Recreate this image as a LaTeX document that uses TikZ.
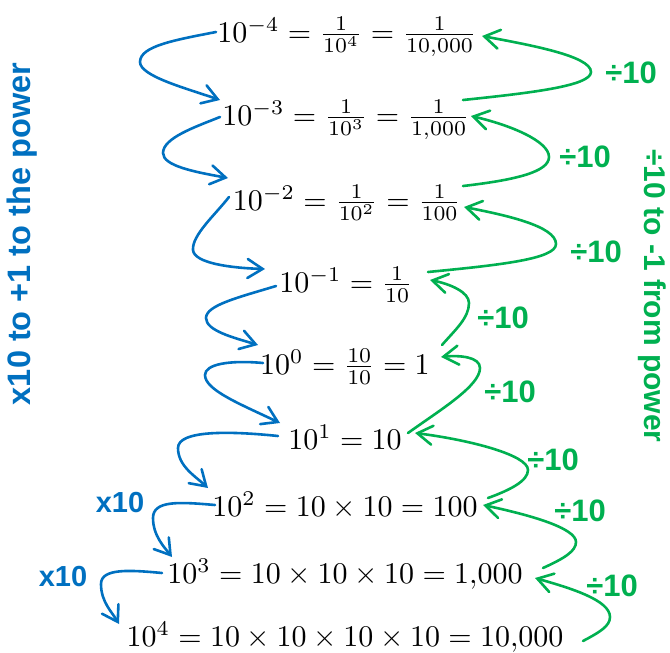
\documentclass[tikz,border=0pt]{standalone}
\usepackage{fontspec}
\newfontfamily\lblfont{Liberation Sans}
\usetikzlibrary{arrows.meta}
\definecolor{myblue}{HTML}{0070C0}
\definecolor{mygreen}{HTML}{00B050}
\begin{document}
\begin{tikzpicture}[x=1pt,y=-1pt,
  eq/.style={anchor=base, inner sep=0pt, scale=3},
  blbl/.style={text=myblue, inner sep=0pt, font=\lblfont\bfseries\fontsize{29}{31}\selectfont},
  glbl/.style={text=mygreen, inner sep=0pt, font=\lblfont\bfseries\fontsize{31}{33}\selectfont},
  barr/.style={draw=myblue, line width=2.6pt, line cap=round, -{Straight Barb[length=15pt,width=19pt,line cap=round]}},
  garr/.style={draw=mygreen, line width=2.6pt, line cap=round, -{Straight Barb[length=15pt,width=19pt,line cap=round]}}]
\useasboundingbox (0,0) rectangle (670,653);

% equations
\node[eq] (r1) at (347,42)  {$10^{-4}=\frac{1}{10^4}=\frac{1}{10{,}000}$};
\node[eq] (r2) at (346,125) {$10^{-3}=\frac{1}{10^3}=\frac{1}{1{,}000}$};
\node[eq] (r3) at (347,210) {$10^{-2}=\frac{1}{10^2}=\frac{1}{100}$};
\node[eq] (r4) at (346,292) {$10^{-1}=\frac{1}{10}$};
\node[eq] (r5) at (345,374) {$10^{0}=\frac{10}{10}=1$};
\node[eq] (r6) at (345,449) {$10^{1}=10$};
\node[eq] (r7) at (345,516) {$10^{2}=10\times10=100$};
\node[eq] (r8) at (345,583) {$10^{3}=10\times10\times10=1{,}000$};
\node[eq] (r9) at (345,646) {$10^{4}=10\times10\times10\times10=10{,}000$};

% side texts
\node[inner sep=0pt, text=myblue, rotate=90, font=\lblfont\bfseries\fontsize{32.5}{34}\selectfont] (lt) at (22,234) {x10 to +1 to the power};
\node[inner sep=0pt, text=mygreen, rotate=-90, font=\lblfont\bfseries\fontsize{30}{32}\selectfont] (rt) at (652,296) {÷10 to -1 from power};

% x10 labels
\node[blbl] (x1) at (120,503) {x10};
\node[blbl] (x2) at (63,577) {x10};

% divide labels
\node[glbl] (d2) at (631,73) {÷10};
\node[glbl] (d3) at (585,157) {÷10};
\node[glbl] (d4) at (596,252) {÷10};
\node[glbl] (d5) at (503,318) {÷10};
\node[glbl] (d6) at (510,392) {÷10};
\node[glbl] (d7) at (553,460) {÷10};
\node[glbl] (d8) at (580,511) {÷10};
\node[glbl] (d9) at (612,586) {÷10};

% blue connector ends
\coordinate (b1s) at (216,32);  \coordinate (b1l) at (140,62);  \coordinate (b1t) at (220,100);
\coordinate (b2s) at (220,117); \coordinate (b2l) at (163,153); \coordinate (b2t) at (228,178);
\coordinate (b3s) at (229,197); \coordinate (b3l) at (193,250); \coordinate (b3t) at (265,269);
\coordinate (b4s) at (276,286); \coordinate (b4l) at (206,318); \coordinate (b4t) at (258,345);
\coordinate (b5s) at (263,363); \coordinate (b5l) at (205,375); \coordinate (b5t) at (280,423);
\coordinate (b6s) at (278,436); \coordinate (b6l) at (178,448); \coordinate (b6t) at (208,488);
\coordinate (b7s) at (215,505); \coordinate (b7l) at (153,518); \coordinate (b7t) at (172,557);
\coordinate (b8s) at (162,573); \coordinate (b8l) at (101,584); \coordinate (b8t) at (119,624);

\draw[barr] (b1s) .. controls (175,40) and (140,46) .. (b1l) .. controls (140,76) and (185,88) .. (b1t);
\draw[barr] (b2s) .. controls (195,127) and (163,138) .. (b2l) .. controls (163,166) and (195,172) .. (b2t);
\draw[barr] (b3s) .. controls (215,215) and (192,235) .. (b3l) .. controls (194,263) and (230,268) .. (b3t);
\draw[barr] (b4s) .. controls (240,297) and (206,305) .. (b4l) .. controls (206,331) and (235,338) .. (b4t);
\draw[barr] (b5s) .. controls (230,360) and (205,364) .. (b5l) .. controls (205,390) and (240,404) .. (b5t);
\draw[barr] (b6s) .. controls (230,431) and (178,430) .. (b6l) .. controls (178,466) and (195,476) .. (b6t);
\draw[barr] (b7s) .. controls (180,502) and (153,500) .. (b7l) .. controls (153,536) and (165,548) .. (b7t);
\draw[barr] (b8s) .. controls (130,570) and (101,568) .. (b8l) .. controls (101,602) and (112,612) .. (b8t);

% green connector ends
\coordinate (g2s) at (463,100); \coordinate (g2r) at (591,72);  \coordinate (g2t) at (482,36);
\coordinate (g3s) at (463,186); \coordinate (g3r) at (549,157); \coordinate (g3t) at (471,116);
\coordinate (g4s) at (428,272); \coordinate (g4r) at (556,244); \coordinate (g4t) at (464,207);
\coordinate (g5s) at (442,345); \coordinate (g5r) at (469,303); \coordinate (g5t) at (430,280);
\coordinate (g6s) at (408,433); \coordinate (g6r) at (480,368); \coordinate (g6t) at (441,357);
\coordinate (g7s) at (488,498); \coordinate (g7r) at (528,470); \coordinate (g7t) at (415,433);
\coordinate (g8s) at (543,568); \coordinate (g8r) at (576,542); \coordinate (g8t) at (483,505);
\coordinate (g9s) at (583,641); \coordinate (g9r) at (610,617); \coordinate (g9t) at (535,578);

\draw[garr] (g2s) .. controls (530,93) and (591,86) .. (g2r) .. controls (591,56) and (530,45) .. (g2t);
\draw[garr] (g3s) .. controls (515,180) and (549,172) .. (g3r) .. controls (549,141) and (510,125) .. (g3t);
\draw[garr] (g4s) .. controls (500,265) and (556,259) .. (g4r) .. controls (556,226) and (505,215) .. (g4t);
\draw[garr] (g5s) .. controls (455,330) and (469,318) .. (g5r) .. controls (469,292) and (450,284) .. (g5t);
\draw[garr] (g6s) .. controls (440,410) and (480,386) .. (g6r) .. controls (480,357) and (460,355) .. (g6t);
\draw[garr] (g7s) .. controls (510,490) and (528,481) .. (g7r) .. controls (528,455) and (470,440) .. (g7t);
\draw[garr] (g8s) .. controls (565,558) and (576,551) .. (g8r) .. controls (576,528) and (530,515) .. (g8t);
\draw[garr] (g9s) .. controls (600,632) and (610,626) .. (g9r) .. controls (610,600) and (570,588) .. (g9t);
\end{tikzpicture}
\end{document}
